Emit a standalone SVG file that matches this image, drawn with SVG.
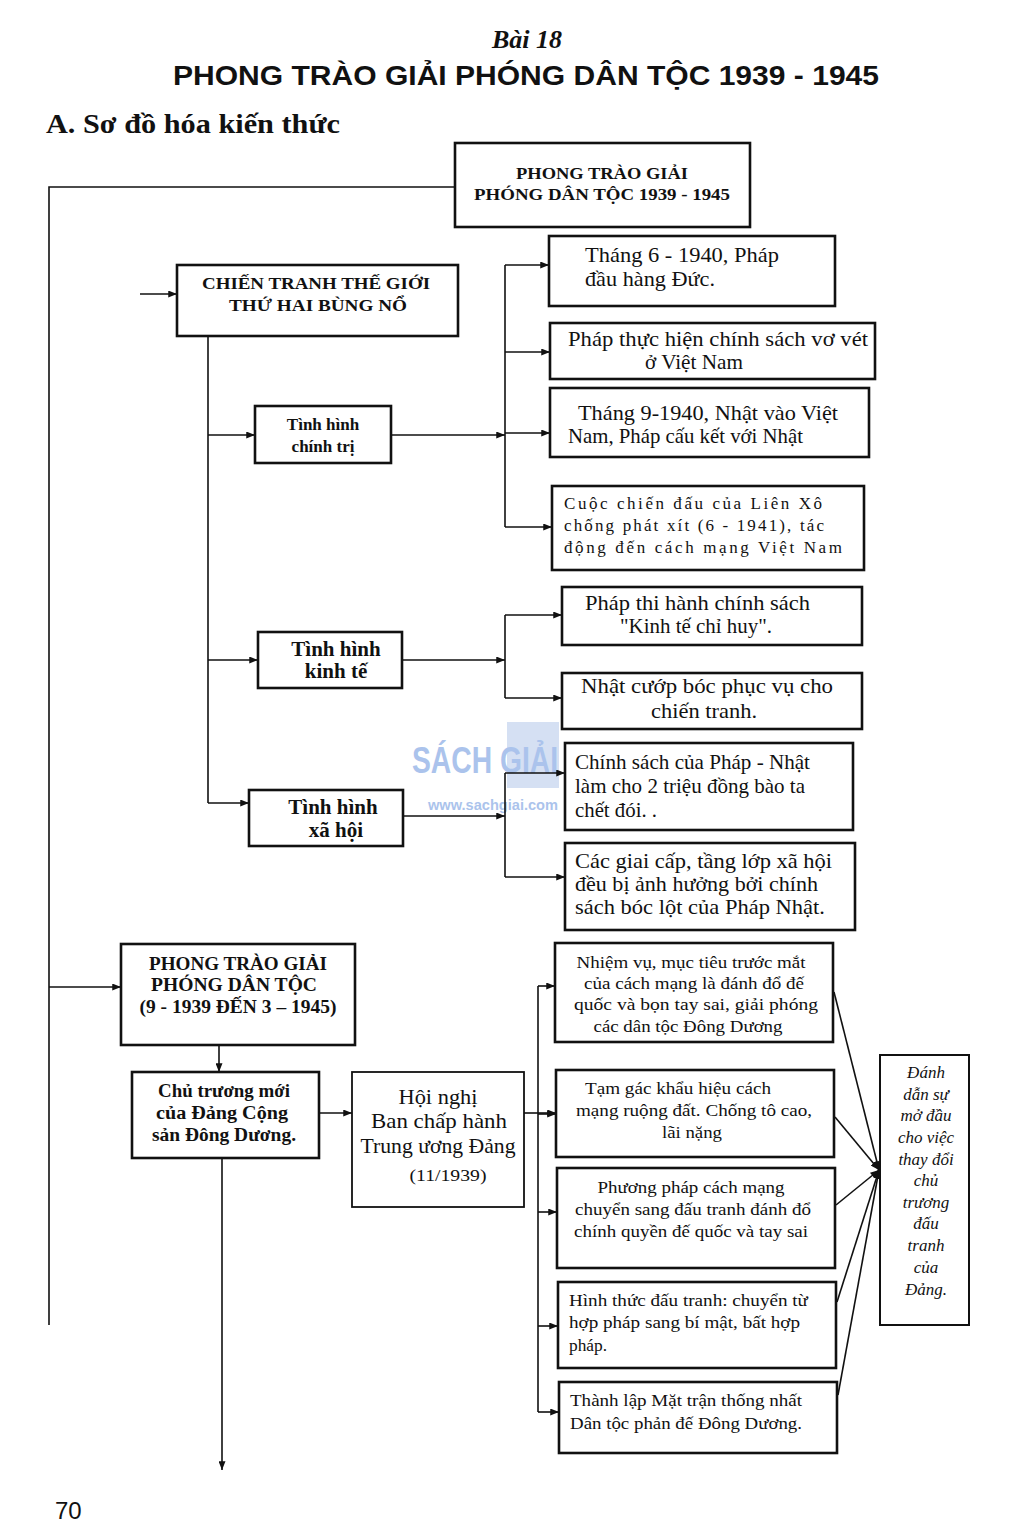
<svg xmlns="http://www.w3.org/2000/svg" width="1024" height="1537" viewBox="0 0 1024 1537">
<defs>
<marker id="ar" viewBox="0 0 10 8" refX="10" refY="4" markerWidth="9" markerHeight="7" markerUnits="userSpaceOnUse" orient="auto">
<path d="M0,0 L10,4 L0,8 Z" fill="#111"/>
</marker>
</defs>
<style>
.bx{fill:#fff;stroke:#111;stroke-width:2.6}
.ln{fill:none;stroke:#111;stroke-width:1.6}
.a{marker-end:url(#ar)}
.s{font-family:"Liberation Serif","Times New Roman",serif;fill:#111}
.b{font-weight:bold}
.t{font-size:21px}
.m{font-size:17px}
.c{text-anchor:middle}
.wm{font-family:"Liberation Sans",Arial,sans-serif;fill:#8fb0e6;font-weight:bold}
</style>
<rect width="1024" height="1537" fill="#fff"/>
<g id="header">
<text x="527" y="48" class="s b c" font-style="italic" font-size="26">Bài 18</text>
<text x="526" y="85" font-family="Liberation Sans,Arial,sans-serif" font-weight="bold" font-size="27" text-anchor="middle" textLength="706" lengthAdjust="spacingAndGlyphs" fill="#111">PHONG TRÀO GIẢI PHÓNG DÂN TỘC 1939 - 1945</text>
<text x="46" y="133" class="s b" font-size="27" textLength="294" lengthAdjust="spacingAndGlyphs">A. Sơ đồ hóa kiến thức</text>
</g>
<g id="watermark" opacity="0.75">
<rect x="507" y="722" width="52" height="66" fill="#c7d6f0"/>
<text x="412" y="773" class="wm" font-size="36" textLength="146" lengthAdjust="spacingAndGlyphs">SÁCH GIẢI</text>
<text x="428" y="810" class="wm" font-size="15" font-weight="normal" textLength="130" lengthAdjust="spacingAndGlyphs">www.sachgiai.com</text>
</g>
<g id="connectors">
<path class="ln" d="M455,187 H49 V1325"/>
<path class="ln a" d="M49,987 H121"/>
<path class="ln a" d="M140,294 H177"/>
<path class="ln" d="M208,336 V803"/>
<path class="ln a" d="M208,435 H255"/>
<path class="ln a" d="M208,660 H258"/>
<path class="ln a" d="M208,803 H249"/>
<path class="ln a" d="M391,435 H505"/>
<path class="ln" d="M505,265 V527"/>
<path class="ln a" d="M505,265 H549"/>
<path class="ln a" d="M505,352 H550"/>
<path class="ln a" d="M505,433 H550"/>
<path class="ln a" d="M505,527 H552"/>
<path class="ln a" d="M402,660 H505"/>
<path class="ln" d="M505,615 V698"/>
<path class="ln a" d="M505,615 H562"/>
<path class="ln a" d="M505,698 H562"/>
<path class="ln a" d="M403,816 H505"/>
<path class="ln" d="M505,773 V877"/>
<path class="ln a" d="M505,773 H565"/>
<path class="ln a" d="M505,877 H565"/>
<path class="ln a" d="M219,1045 V1072"/>
<path class="ln a" d="M319,1113 H352"/>
<path class="ln a" d="M222,1158 V1470"/>
<path class="ln a" d="M524,1113 H556"/>
<path class="ln" d="M538,986 V1412"/>
<path class="ln a" d="M538,986 H555"/>
<path class="ln a" d="M538,1114 H556"/>
<path class="ln a" d="M538,1212 H557"/>
<path class="ln a" d="M538,1326 H558"/>
<path class="ln a" d="M538,1412 H559"/>
<path class="ln a" d="M834,992 L879,1170"/>
<path class="ln a" d="M835,1117 L879,1170"/>
<path class="ln a" d="M836,1205 L879,1170"/>
<path class="ln a" d="M837,1302 L879,1170"/>
<path class="ln a" d="M838,1395 L879,1170"/>
</g>
<g id="n-root">
<rect class="bx" x="455" y="143" width="295" height="84"/>
<text class="s b c" x="602" y="179" font-size="17" textLength="172" lengthAdjust="spacingAndGlyphs">PHONG TRÀO GIẢI</text>
<text class="s b c" x="602" y="200" font-size="17" textLength="256" lengthAdjust="spacingAndGlyphs">PHÓNG DÂN TỘC 1939 - 1945</text>
</g>
<g id="n-chientranh">
<rect class="bx" x="177" y="265" width="281" height="71"/>
<text class="s b c" x="316" y="289" font-size="17" textLength="228" lengthAdjust="spacingAndGlyphs">CHIẾN TRANH THẾ GIỚI</text>
<text class="s b c" x="318" y="311" font-size="17" textLength="178" lengthAdjust="spacingAndGlyphs">THỨ HAI BÙNG NỔ</text>
</g>
<g id="n-chinhtri">
<rect class="bx" x="255" y="406" width="136" height="57"/>
<text class="s b c" x="323" y="430" font-size="17">Tình hình</text>
<text class="s b c" x="323" y="452" font-size="17">chính trị</text>
</g>
<g id="n-kinhte">
<rect class="bx" x="258" y="632" width="144" height="56"/>
<text class="s b c" x="336" y="656" font-size="21">Tình hình</text>
<text class="s b c" x="336" y="678" font-size="21">kinh tế</text>
</g>
<g id="n-xahoi">
<rect class="bx" x="249" y="790" width="154" height="56"/>
<text class="s b c" x="333" y="814" font-size="21">Tình hình</text>
<text class="s b c" x="336" y="837" font-size="21">xã hội</text>
</g>
<g id="n-ct1">
<rect class="bx" x="549" y="236" width="286" height="70"/>
<text class="s t" x="585" y="262" textLength="194" lengthAdjust="spacingAndGlyphs">Tháng 6 - 1940, Pháp</text>
<text class="s t" x="585" y="286" textLength="130" lengthAdjust="spacingAndGlyphs">đầu hàng Đức.</text>
</g>
<g id="n-ct2">
<rect class="bx" x="550" y="323" width="325" height="56"/>
<text class="s t" x="568" y="346" textLength="300" lengthAdjust="spacingAndGlyphs">Pháp thực hiện chính sách vơ vét</text>
<text class="s t" x="645" y="369" textLength="98" lengthAdjust="spacingAndGlyphs">ở Việt Nam</text>
</g>
<g id="n-ct3">
<rect class="bx" x="550" y="388" width="319" height="69"/>
<text class="s t" x="578" y="420" textLength="260" lengthAdjust="spacingAndGlyphs">Tháng 9-1940, Nhật vào Việt</text>
<text class="s t" x="568" y="443" textLength="235" lengthAdjust="spacingAndGlyphs">Nam, Pháp cấu kết với Nhật</text>
</g>
<g id="n-ct4">
<rect class="bx" x="552" y="486" width="312" height="84"/>
<text class="s m" x="564" y="509" textLength="258" lengthAdjust="spacing">Cuộc chiến đấu của Liên Xô</text>
<text class="s m" x="564" y="531" textLength="260" lengthAdjust="spacing">chống phát xít (6 - 1941), tác</text>
<text class="s m" x="564" y="553" textLength="278" lengthAdjust="spacing">động đến cách mạng Việt Nam</text>
</g>
<g id="n-kt1">
<rect class="bx" x="562" y="587" width="300" height="58"/>
<text class="s t" x="585" y="610" textLength="225" lengthAdjust="spacingAndGlyphs">Pháp thi hành chính sách</text>
<text class="s t" x="620" y="633" textLength="152" lengthAdjust="spacingAndGlyphs">"Kinh tế chỉ huy".</text>
</g>
<g id="n-kt2">
<rect class="bx" x="562" y="673" width="300" height="56"/>
<text class="s t" x="581" y="693" textLength="252" lengthAdjust="spacingAndGlyphs">Nhật cướp bóc phục vụ cho</text>
<text class="s t" x="651" y="718" textLength="106" lengthAdjust="spacingAndGlyphs">chiến tranh.</text>
</g>
<g id="n-xh1">
<rect class="bx" x="565" y="743" width="288" height="87"/>
<text class="s t" x="575" y="769" textLength="235" lengthAdjust="spacingAndGlyphs">Chính sách của Pháp - Nhật</text>
<text class="s t" x="575" y="793" textLength="230" lengthAdjust="spacingAndGlyphs">làm cho 2 triệu đồng bào ta</text>
<text class="s t" x="575" y="817" textLength="82" lengthAdjust="spacingAndGlyphs">chết đói. .</text>
</g>
<g id="n-xh2">
<rect class="bx" x="565" y="843" width="290" height="87"/>
<text class="s t" x="575" y="868" textLength="257" lengthAdjust="spacingAndGlyphs">Các giai cấp, tầng lớp xã hội</text>
<text class="s t" x="575" y="891" textLength="243" lengthAdjust="spacingAndGlyphs">đều bị ảnh hưởng bởi chính</text>
<text class="s t" x="575" y="914" textLength="250" lengthAdjust="spacingAndGlyphs">sách bóc lột của Pháp Nhật.</text>
</g>
<g id="n-phongtrao">
<rect class="bx" x="121" y="944" width="234" height="101"/>
<text class="s b c" x="238" y="970" font-size="18" textLength="178" lengthAdjust="spacingAndGlyphs">PHONG TRÀO GIẢI</text>
<text class="s b c" x="234" y="991" font-size="18" textLength="166" lengthAdjust="spacingAndGlyphs">PHÓNG DÂN TỘC</text>
<text class="s b c" x="238" y="1013" font-size="18" textLength="197" lengthAdjust="spacingAndGlyphs">(9 - 1939 ĐẾN 3 – 1945)</text>
</g>
<g id="n-chutruong">
<rect class="bx" x="132" y="1072" width="187" height="86"/>
<text class="s b c" x="224" y="1097" font-size="18" textLength="132" lengthAdjust="spacingAndGlyphs">Chủ trương mới</text>
<text class="s b c" x="222" y="1119" font-size="18" textLength="132" lengthAdjust="spacingAndGlyphs">của Đảng Cộng</text>
<text class="s b c" x="224" y="1141" font-size="18" textLength="144" lengthAdjust="spacingAndGlyphs">sản Đông Dương.</text>
</g>
<g id="n-hoinghi">
<rect fill="#fff" stroke="#111" stroke-width="1.8" x="352" y="1072" width="172" height="135"/>
<text class="s c" x="438" y="1104" font-size="21" textLength="79" lengthAdjust="spacingAndGlyphs">Hội nghị</text>
<text class="s c" x="439" y="1128" font-size="21" textLength="136" lengthAdjust="spacingAndGlyphs">Ban chấp hành</text>
<text class="s c" x="438" y="1153" font-size="21" textLength="155" lengthAdjust="spacingAndGlyphs">Trung ương Đảng</text>
<text class="s c" x="448" y="1181" font-size="17" textLength="77" lengthAdjust="spacingAndGlyphs">(11/1939)</text>
</g>
<g id="n-hn1">
<rect class="bx" x="555" y="943" width="278" height="99"/>
<text class="s m c" x="691" y="968" textLength="229" lengthAdjust="spacingAndGlyphs">Nhiệm vụ, mục tiêu trước mắt</text>
<text class="s m c" x="694" y="989" textLength="220" lengthAdjust="spacingAndGlyphs">của cách mạng là đánh đổ đế</text>
<text class="s m c" x="696" y="1010" textLength="244" lengthAdjust="spacingAndGlyphs">quốc và bọn tay sai, giải phóng</text>
<text class="s m c" x="688" y="1032" textLength="189" lengthAdjust="spacingAndGlyphs">các dân tộc Đông Dương</text>
</g>
<g id="n-hn2">
<rect class="bx" x="556" y="1070" width="278" height="87"/>
<text class="s m c" x="678" y="1094" textLength="186" lengthAdjust="spacingAndGlyphs">Tạm gác khẩu hiệu cách</text>
<text class="s m c" x="694" y="1116" textLength="236" lengthAdjust="spacingAndGlyphs">mạng ruộng đất. Chống tô cao,</text>
<text class="s m c" x="692" y="1138" textLength="60" lengthAdjust="spacingAndGlyphs">lãi nặng</text>
</g>
<g id="n-hn3">
<rect class="bx" x="557" y="1168" width="278" height="100"/>
<text class="s m c" x="691" y="1193" textLength="187" lengthAdjust="spacingAndGlyphs">Phương pháp cách mạng</text>
<text class="s m c" x="693" y="1215" textLength="236" lengthAdjust="spacingAndGlyphs">chuyển sang đấu tranh đánh đổ</text>
<text class="s m c" x="691" y="1237" textLength="234" lengthAdjust="spacingAndGlyphs">chính quyền đế quốc và tay sai</text>
</g>
<g id="n-hn4">
<rect class="bx" x="558" y="1282" width="278" height="86"/>
<text class="s m" x="569" y="1306" textLength="239" lengthAdjust="spacingAndGlyphs">Hình thức đấu tranh: chuyển từ</text>
<text class="s m" x="569" y="1328" textLength="231" lengthAdjust="spacingAndGlyphs">hợp pháp sang bí mật, bất hợp</text>
<text class="s m" x="569" y="1351" textLength="38" lengthAdjust="spacingAndGlyphs">pháp.</text>
</g>
<g id="n-hn5">
<rect class="bx" x="559" y="1382" width="278" height="71"/>
<text class="s m" x="570" y="1406" textLength="232" lengthAdjust="spacingAndGlyphs">Thành lập Mặt trận thống nhất</text>
<text class="s m" x="570" y="1429" textLength="232" lengthAdjust="spacingAndGlyphs">Dân tộc phản đế Đông Dương.</text>
</g>
<g id="n-danhdau">
<rect fill="#fff" stroke="#111" stroke-width="2" x="880" y="1055" width="89" height="270"/>
<g class="s c" font-style="italic" font-size="17">
<text x="926" y="1078">Đánh</text>
<text x="926" y="1100">dẫn sự</text>
<text x="926" y="1121">mở đầu</text>
<text x="926" y="1143">cho việc</text>
<text x="926" y="1165">thay đổi</text>
<text x="926" y="1186">chủ</text>
<text x="926" y="1208">trương</text>
<text x="926" y="1229">đấu</text>
<text x="926" y="1251">tranh</text>
<text x="926" y="1273">của</text>
<text x="926" y="1295">Đảng.</text>
</g>
</g>
<text x="55" y="1519" font-family="Liberation Sans,Arial,sans-serif" font-size="24" fill="#111">70</text>
</svg>
